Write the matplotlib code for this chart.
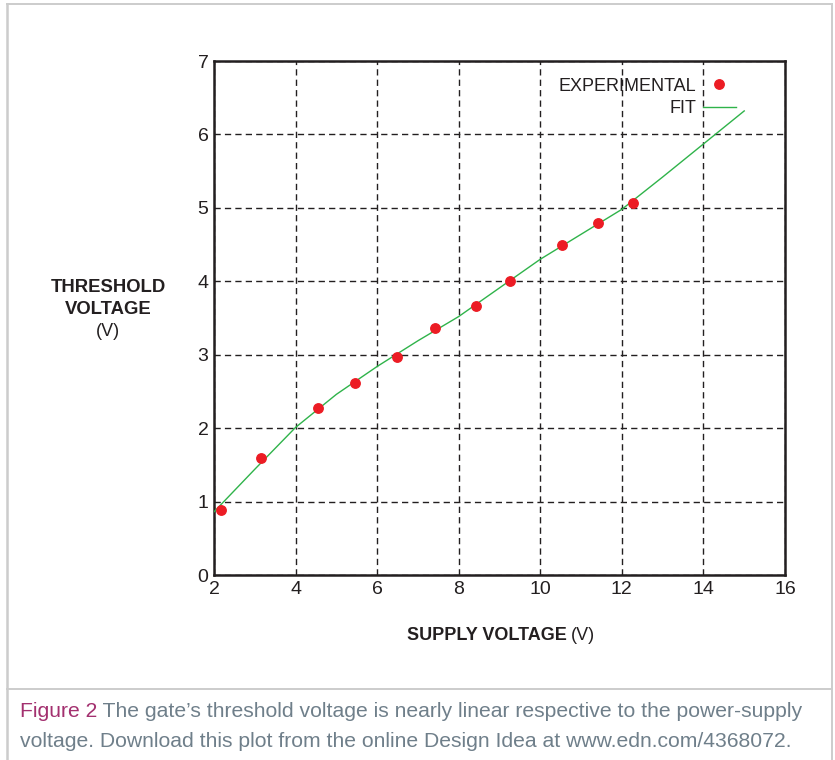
import matplotlib
matplotlib.use("Agg")
import matplotlib.pyplot as plt
from matplotlib.lines import Line2D

plt.rcParams['font.family'] = ['Liberation Sans', 'DejaVu Sans']

# measured points
supply_v = [2.17, 3.16, 4.54, 5.45, 6.49, 7.42, 8.42, 9.25, 10.53, 11.41, 12.27]
threshold_v = [0.89, 1.60, 2.28, 2.61, 2.97, 3.36, 3.66, 4.01, 4.50, 4.79, 5.07]

# fit curve
fit_x = [2, 3, 4, 5, 6, 7, 8, 9, 10, 11, 12, 13, 14, 15]
fit_y = [0.86, 1.44, 2.01, 2.46, 2.84, 3.19, 3.52, 3.91, 4.30, 4.64, 4.98, 5.42, 5.87, 6.32]

x_ticks = [2, 4, 6, 8, 10, 12, 14, 16]
y_ticks = [0, 1, 2, 3, 4, 5, 6, 7]

W, H = 835, 760
fig = plt.figure(figsize=(W / 100, H / 100), dpi=100)


def fx(px):
    return px / W


def fy(py):
    return 1 - py / H


# outer frame + caption divider
frame_col = '#cccccc'
fig.add_artist(Line2D([fx(7), fx(7)], [fy(4), fy(762)], color=frame_col, lw=1.8))
fig.add_artist(Line2D([fx(7), fx(832)], [fy(4), fy(4)], color=frame_col, lw=1.4))
fig.add_artist(Line2D([fx(832), fx(832)], [fy(4), fy(762)], color=frame_col, lw=1.4))
fig.add_artist(Line2D([fx(7), fx(832)], [fy(689), fy(689)], color=frame_col, lw=1.4))

ax = fig.add_axes([fx(214), fy(575), fx(785) - fx(214), fy(61) - fy(575)])

ax.plot(fit_x, fit_y, color='#2fb34a', lw=1.0, label='FIT', zorder=3)
ax.plot(supply_v, threshold_v, 'o', color='#ec1c24', ms=6.8, mec='#ec1c24',
        label='EXPERIMENTAL', zorder=4)

ax.set_xlim(2, 16)
ax.set_ylim(0, 7)
ax.set_xticks(x_ticks)
ax.set_yticks(y_ticks)
ax.tick_params(length=0, labelsize=14, colors='#231f20', pad=4)
ax.grid(True, color='#231f20', lw=1.0, linestyle=(0, (4.5, 3)))
for s in ax.spines.values():
    s.set_linewidth(1.8)
    s.set_color('#231f20')

handles, labels = ax.get_legend_handles_labels()
leg = ax.legend(handles[::-1], labels[::-1], loc='upper right',
                bbox_to_anchor=(0.942, 0.999), frameon=False, markerfirst=False,
                fontsize=13, handlelength=1.8, handletextpad=0.4,
                labelspacing=0.28, borderpad=0.4)
for t in leg.get_texts():
    t.set_color('#231f20')

# axis labels
lab_col = '#231f20'
fig.text(fx(108), fy(287), 'THRESHOLD', ha='center', va='center',
         fontsize=13.3, fontweight='bold', color=lab_col)
fig.text(fx(108), fy(309), 'VOLTAGE', ha='center', va='center',
         fontsize=13.3, fontweight='bold', color=lab_col)
fig.text(fx(108), fy(331), '(V)', ha='center', va='center',
         fontsize=13, color=lab_col)
fig.text(fx(567), fy(636), 'SUPPLY VOLTAGE', ha='right', va='center',
         fontsize=13, fontweight='bold', color=lab_col)
fig.text(fx(571), fy(636), '(V)', ha='left', va='center',
         fontsize=13, color=lab_col)

# caption
cap_col = '#6f7f8a'
cap_size = 15.2
t1 = fig.text(fx(20), fy(721), 'Figure 2', ha='left', va='bottom',
              fontsize=cap_size, color='#a3306f')
ax.annotate(" The gate\u2019s threshold voltage is nearly linear respective to the power-supply",
            xy=(1, 0), xycoords=t1, ha='left', va='bottom',
            fontsize=cap_size, color=cap_col, annotation_clip=False)
fig.text(fx(20), fy(751),
         'voltage. Download this plot from the online Design Idea at www.edn.com/4368072.',
         ha='left', va='bottom', fontsize=cap_size, color=cap_col)

fig.savefig('out.png', dpi=100)
